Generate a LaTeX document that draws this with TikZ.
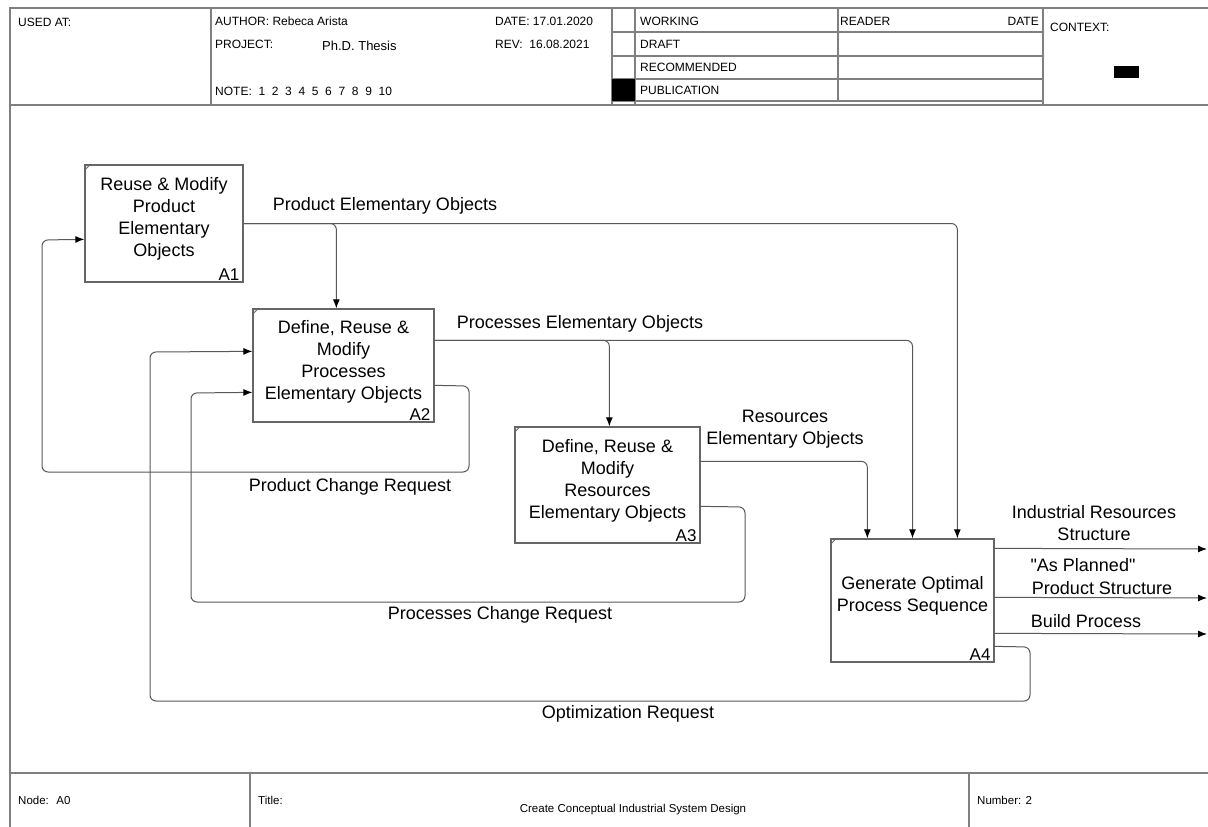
\documentclass[tikz,border=0pt]{standalone}
\usepackage{fontspec}
\setmainfont{Liberation Sans}[Ligatures=TeXOff]
\usetikzlibrary{arrows.meta,calc}
\begin{document}
\begin{tikzpicture}[x=1pt,y=-1pt,
  frameline/.style={draw=black!50, line width=1.3pt},
  hdr/.style={anchor=west, inner sep=0pt, font=\fontsize{12}{14}\selectfont},
  ftr/.style={anchor=west, inner sep=0pt, font=\fontsize{11.5}{14}\selectfont},
  box/.style={draw=black!60, line width=1.3pt, fill=white, inner sep=0pt},
  boxtext/.style={align=center, inner sep=0pt, font=\fontsize{18}{22}\selectfont},
  boxnum/.style={anchor=south east, inner sep=0pt, font=\fontsize{17}{18}\selectfont},
  lbl/.style={align=center, inner sep=0pt, font=\fontsize{18}{22}\selectfont},
  flow/.style={draw=black!65, line width=1pt, rounded corners=6pt},
  arr/.style={flow, -{Latex[length=9pt,width=7pt,color=black]}},
  tick/.style={draw=black!60, line width=0.8pt}
]
\useasboundingbox (0,0) rectangle (1208,827);
\fill[white] (0,0) rectangle (1208,827);

% ---------- frame ----------
\draw[frameline] (1208,8) -- (10,8) -- (10,827);
\draw[frameline] (10,105) -- (1208,105);
\draw[frameline] (10,773) -- (1208,773);
\foreach \x in {211,612,635,1043} \draw[frameline] (\x,8) -- (\x,105);
\draw[frameline] (838,8) -- (838,101);
\foreach \y in {32,56,79,101} \draw[frameline] (612,\y) -- (1043,\y);
\draw[frameline] (250,773) -- (250,827);
\draw[frameline] (969,773) -- (969,827);
\fill[black] (612,79) rectangle (635,101);
\fill[black] (1114,66) rectangle (1139,78);

% ---------- header text ----------
\node[hdr] (usedat) at (18,22) {USED AT:};
\node[hdr] (author) at (215,21) {AUTHOR: Rebeca Arista};
\node[hdr] (project) at (215,44) {PROJECT:};
\node[hdr, font=\fontsize{13}{15}\selectfont] (thesis) at (322,46) {Ph.D. Thesis};
\node[hdr] (date) at (495,21) {DATE: 17.01.2020};
\node[hdr] (rev) at (495,44) {REV: \ 16.08.2021};
\node[hdr] (note) at (215,91) {NOTE: \ 1 \ 2 \ 3 \ 4 \ 5 \ 6 \ 7 \ 8 \ 9 \ 10};
\node[hdr] (working) at (640,21) {WORKING};
\node[hdr] (draft) at (640,44) {DRAFT};
\node[hdr] (recommended) at (640,67.5) {RECOMMENDED};
\node[hdr] (publication) at (640,90.5) {PUBLICATION};
\node[hdr] (reader) at (840,21) {READER};
\node[hdr, anchor=east] (rdate) at (1039,21) {DATE};
\node[hdr] (context) at (1050,27) {CONTEXT:};

% ---------- footer text ----------
\node[ftr] (nodeA0) at (18,800) {Node: \ A0};
\node[ftr] (title) at (258,800) {Title:};
\node[ftr, anchor=center] (titletext) at (633,810) {Create Conceptual Industrial System Design};
\node[ftr] (number) at (977,800) {Number: 2};

% ---------- boxes ----------
\node[box, minimum width=158pt, minimum height=117pt] (A1) at (164,223.5) {};
\node[box, minimum width=181pt, minimum height=113pt] (A2) at (343.5,365.5) {};
\node[box, minimum width=185pt, minimum height=116pt] (A3) at (607.5,485) {};
\node[box, minimum width=163pt, minimum height=123pt] (A4) at (912.5,600.5) {};

\node[boxtext] (A1t) at (164,218.5) {Reuse \& Modify\\Product\\Elementary\\Objects};
\node[boxtext] (A2t) at (343.5,361.5) {Define, Reuse \&\\Modify\\Processes\\Elementary Objects};
\node[boxtext] (A3t) at (607.5,480.5) {Define, Reuse \&\\Modify\\Resources\\Elementary Objects};
\node[boxtext] (A4t) at (912.5,596) {Generate Optimal\\Process Sequence};

\foreach \b in {A1,A2,A3,A4} {
  \node[boxnum] (\b n) at ($(\b.south east)+(-4,-2)$) {\b};
  \draw[tick] ($(\b.north west)+(0,6)$) -- ($(\b.north west)+(6,0)$);
}

% ---------- connectors ----------
% Product Elementary Objects
\draw[arr] (A1.east) -| ($(A4.north west)+(127,0)$);
\draw[arr] (A1.east) -| ($(A2.north west)+(84,0)$);
% Processes Elementary Objects
\draw[arr] ($(A2.north east)+(0,32)$) -| (A4.north);
\draw[arr] ($(A2.north east)+(0,32)$) -| ($(A3.north west)+(95,0)$);
% Resources Elementary Objects
\draw[arr] ($(A3.north east)+(0,35)$) -| ($(A4.north west)+(37,0)$);
% Outputs
\coordinate (o1) at (1207,549);
\coordinate (o2) at (1207,598);
\coordinate (o3) at (1207,634);
\draw[arr] ($(A4.north east)+(0,10)$) -- (o1);
\draw[arr] ($(A4.north east)+(0,59)$) -- (o2);
\draw[arr] ($(A4.north east)+(0,95)$) -- (o3);
% Product Change Request
\draw[arr] ($(A2.north east)+(0,77)$) -- (469,386) -- (469,472) -- (42,472) -- (42,240) -- ($(A1.north west)+(0,75)$);
% Processes Change Request
\draw[arr] ($(A3.north east)+(0,80)$) -- (745,507) -- (745,602) -- (191,602) -- (191,393) -- ($(A2.north west)+(0,84)$);
% Optimization Request
\draw[arr] ($(A4.north east)+(0,108)$) -- (1030,647) -- (1030,701) -- (150,701) -- (150,352) -- ($(A2.north west)+(0,43)$);

% ---------- labels ----------
\node[lbl] (l1) at (385,206) {Product Elementary Objects};
\node[lbl] (l2) at (580,324) {Processes Elementary Objects};
\node[lbl] (l3) at (785,429) {Resources\\Elementary Objects};
\node[lbl] (l4) at (350,487) {Product Change Request};
\node[lbl] (l5) at (500,615) {Processes Change Request};
\node[lbl] (l6) at (628,714) {Optimization Request};
\node[lbl] (l7) at (1094,523) {Industrial Resources\\Structure};
\node[lbl] (l8a) at (1083,565) {"As Planned"};
\node[lbl] (l8b) at (1102,588) {Product Structure};
\node[lbl] (l9) at (1086,621) {Build Process};
\end{tikzpicture}
\end{document}
